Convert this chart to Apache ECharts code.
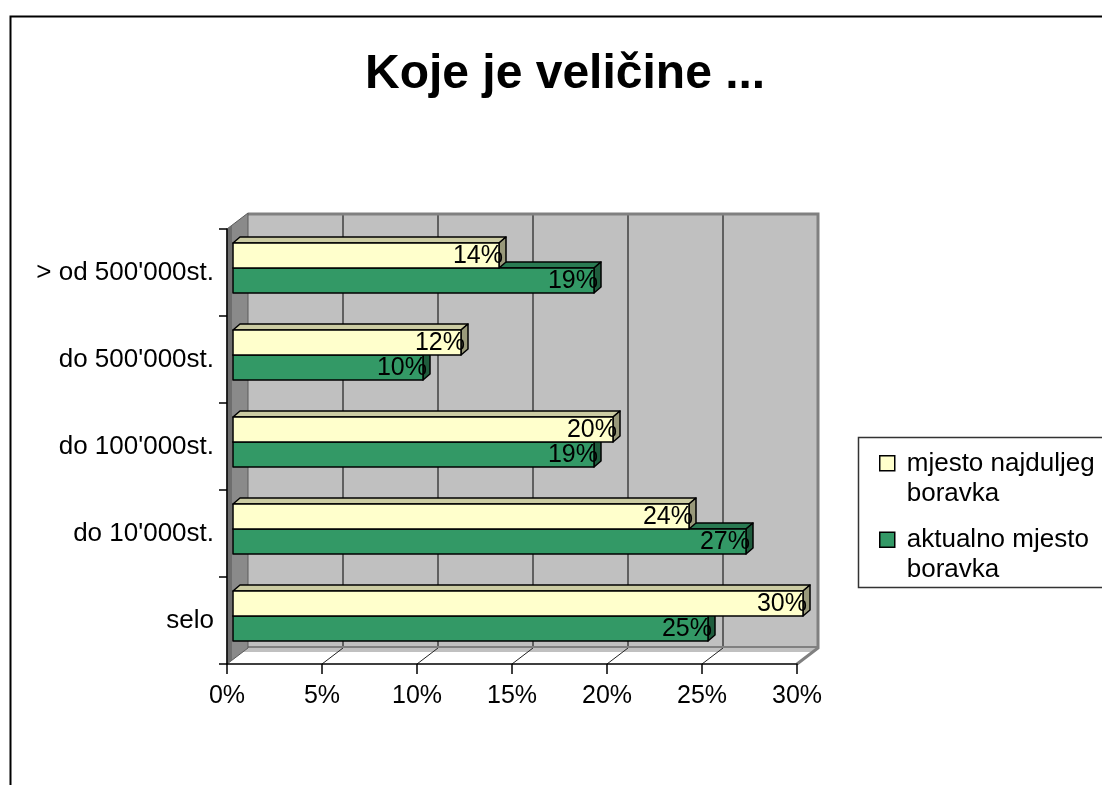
<!DOCTYPE html>
<html><head><meta charset="utf-8">
<script src="https://cdn.jsdelivr.net/npm/echarts@6/dist/echarts.min.js"></script>
<style>html,body{margin:0;padding:0;background:#fff}#c{width:1102px;height:785px}</style>
</head><body><div id="c"></div>
<script>
// ---- data ----
const categories = ['selo', "do 10'000st.", "do 100'000st.", "do 500'000st.", "> od 500'000st."];
const longestStay = [30, 24, 20, 12, 14];   // mjesto najduljeg boravka
const currentPlace = [25, 27, 19, 10, 19];  // aktualno mjesto boravka
const xTicks = [0, 5, 10, 15, 20, 25, 30];
const seriesNames = ['mjesto najduljeg boravka', 'aktualno mjesto boravka'];
const titleText = 'Koje je veličine ...';

// ---- style ----
const FONT = '"Liberation Sans", Arial, sans-serif';
const DX = 21, DY = -16;              // depth of 3D box
const BAR_SX = 6, BAR_SY = -4.5;      // bars placed inside the box depth
const BAR_DX = 7, BAR_DY = -6;        // bar depth
const BAR_FRAC = 0.287;
const COLORS = {
  yellow: {front: '#FFFFCC', top: '#CCCCA3', side: '#99997A'},
  green: {front: '#339966', top: '#297A52', side: '#1F5C3D'}
};

function renderFrame(params, api) {
  const cs = params.coordSys;
  const L = cs.x, T = cs.y, R = cs.x + cs.width, B = cs.y + cs.height;
  const ch = [];
  ch.push({type: 'rect', shape: {x: L + DX, y: T + DY, width: cs.width, height: cs.height},
    style: {fill: '#C0C0C0'}});
  ch.push({type: 'polygon', shape: {points: [[L + DX, B + DY], [R + DX, B + DY], [R + DX - 5, B + DY + 4], [L + DX - 5, B + DY + 4]]},
    style: {fill: '#C0C0C0'}});
  xTicks.forEach(t => {
    const x = api.coord([t, 0])[0];
    if (t > 0 && t < xTicks[xTicks.length - 1]) {
      ch.push({type: 'line', shape: {x1: x + DX, y1: T + DY, x2: x + DX, y2: B + DY}, style: {stroke: '#000', lineWidth: 1}});
    }
    if (t > 0) {
      ch.push({type: 'line', shape: {x1: x, y1: B, x2: x + DX, y2: B + DY}, style: {stroke: '#222', lineWidth: 1}});
    }
  });
  ch.push({type: 'polyline', shape: {points: [[L + DX, T + DY + 1], [R + DX, T + DY + 1], [R + DX, B + DY], [R, B]]},
    style: {stroke: '#808080', lineWidth: 3, fill: null}});
  ch.push({type: 'line', shape: {x1: L + DX, y1: B + DY - 1, x2: R + DX, y2: B + DY - 1}, style: {stroke: '#808080', lineWidth: 2}});
  ch.push({type: 'polygon', shape: {points: [[L, T], [L + DX, T + DY], [L + DX, B + DY], [L, B]]},
    style: {fill: '#8A8A8A', stroke: '#5A5A5A', lineWidth: 1}});
  ch.push({type: 'polygon', shape: {points: [[L, T], [L + 5, T - 4], [L + 5, B - 4], [L, B]]},
    style: {fill: '#6E6E6E'}});
  return {type: 'group', children: ch};
}

function makeBarRenderer(upper, pal) {
  return function (params, api) {
    const v = api.value(0), c = api.value(1);
    const p0 = api.coord([0, c]), p1 = api.coord([v, c]);
    const band = api.size([0, 1])[1];
    const h = band * BAR_FRAC;
    const x0 = p0[0] + BAR_SX, x1 = p1[0] + BAR_SX;
    const cy = p0[1] + BAR_SY;
    const yT = upper ? cy - h : cy, yB = upper ? cy : cy + h;
    const ln = {stroke: '#000', lineWidth: 1.5, lineJoin: 'round'};
    return {type: 'group', children: [
      {type: 'polygon', shape: {points: [[x0, yT], [x1, yT], [x1 + BAR_DX, yT + BAR_DY], [x0 + BAR_DX, yT + BAR_DY]]},
        style: Object.assign({fill: pal.top}, ln)},
      {type: 'polygon', shape: {points: [[x1, yT], [x1 + BAR_DX, yT + BAR_DY], [x1 + BAR_DX, yB + BAR_DY], [x1, yB]]},
        style: Object.assign({fill: pal.side}, ln)},
      {type: 'rect', shape: {x: x0, y: yT, width: x1 - x0, height: yB - yT},
        style: Object.assign({fill: pal.front}, ln)},
      {type: 'text', style: {text: v + '%', x: x1 + 4, y: (yT + yB) / 2 + 1, align: 'right', verticalAlign: 'middle',
        fontSize: 25, fontFamily: FONT, fill: '#000'}}
    ]};
  };
}

const chart = echarts.init(document.getElementById('c'), null, {renderer: 'canvas'});
chart.setOption({
  backgroundColor: '#fff',
  animation: false,
  title: {text: titleText, left: 365, top: 51, padding: 0,
    textStyle: {fontSize: 48, fontWeight: 'bold', fontFamily: FONT, color: '#000'}},
  grid: {left: 227, top: 229, width: 570, height: 435, containLabel: false},
  xAxis: {type: 'value', min: 0, max: 30, interval: 5, z: 5,
    axisLine: {show: true, lineStyle: {color: '#000', width: 1.5}},
    axisTick: {show: true, length: 10, lineStyle: {color: '#000', width: 1.5}},
    axisLabel: {formatter: '{value}%', fontSize: 25, fontFamily: FONT, color: '#000', margin: 20},
    splitLine: {show: false}},
  yAxis: {type: 'category', data: categories, z: 5,
    axisLine: {show: true, lineStyle: {color: '#000', width: 1.5}},
    axisTick: {show: true, length: 8, lineStyle: {color: '#000', width: 1.5}},
    axisLabel: {fontSize: 26, fontFamily: FONT, color: '#000', margin: 13},
    splitLine: {show: false}},
  legend: {orient: 'vertical', left: 874, top: 443, itemWidth: 22, itemHeight: 60, itemGap: 15,
    icon: 'path://M0,0M0,7H15V22H0ZM22,60',
    textStyle: {fontSize: 26, lineHeight: 30, fontFamily: FONT, color: '#000'},
    formatter: n => n.replace(' boravka', '\nboravka'),
    data: [
      {name: seriesNames[0], itemStyle: {color: COLORS.yellow.front, borderColor: '#000', borderWidth: 1.5}},
      {name: seriesNames[1], itemStyle: {color: COLORS.green.front, borderColor: '#000', borderWidth: 1.5}}
    ]},
  graphic: [
    {type: 'rect', left: 8, top: 14, shape: {x: 0, y: 0, width: 1200, height: 900}, style: {fill: null, stroke: '#000', lineWidth: 2}, silent: true, z: -10},
    {type: 'rect', left: 856, top: 435, shape: {x: 0, y: 0, width: 300, height: 150}, style: {fill: null, stroke: '#333', lineWidth: 1.5}, silent: true}
  ],
  series: [
    {type: 'custom', name: '_frame', clip: false, z: 0, silent: true, data: [[0, 0]], encode: {x: 0, y: 1}, renderItem: renderFrame},
    {type: 'custom', name: seriesNames[1], clip: false, z: 2, itemStyle: {color: COLORS.green.front},
      data: currentPlace.map((v, i) => [v, i]), encode: {x: 0, y: 1}, renderItem: makeBarRenderer(false, COLORS.green)},
    {type: 'custom', name: seriesNames[0], clip: false, z: 3, itemStyle: {color: COLORS.yellow.front},
      data: longestStay.map((v, i) => [v, i]), encode: {x: 0, y: 1}, renderItem: makeBarRenderer(true, COLORS.yellow)}
  ]
});
</script></body></html>
